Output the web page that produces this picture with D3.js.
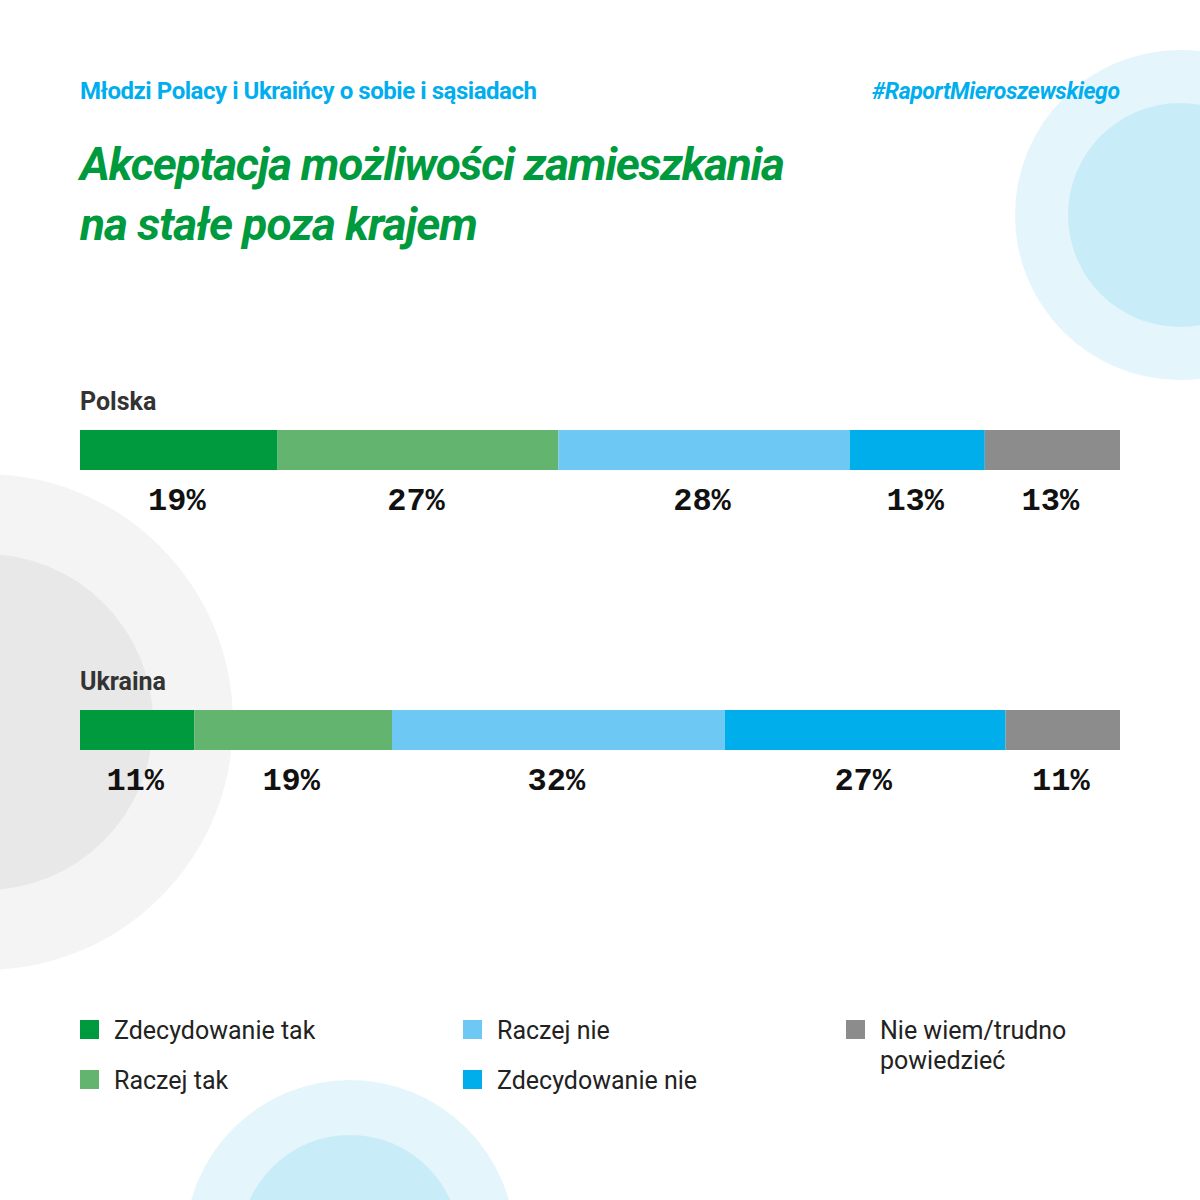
<!DOCTYPE html><html><head><meta charset="utf-8"><script src="https://d3js.org/d3.v7.min.js"></script>
<style>body{margin:0}svg{display:block}</style></head><body><script>
const countries=["Polska","Ukraina"];
const categories=["Zdecydowanie tak","Raczej tak","Raczej nie","Zdecydowanie nie","Nie wiem/trudno powiedzieć"];
const values={"Polska":[19,27,28,13,13],"Ukraina":[11,19,32,27,11]};
const colors=["#009a3e","#63b46e","#6ec8f4","#00aeec","#8c8c8c"];
const svg=d3.select("body").append("svg").attr("width",1200).attr("height",1200);
svg.append("rect").attr("width",1200).attr("height",1200).attr("fill","#fff");
const circ=[[1180,215,165,"#e5f5fc"],[1180,215,112,"#c9ecf9"],[-15,722,248,"#f4f4f4"],[-15,722,168,"#e8e8e8"],[350,1245,165,"#e5f5fc"],[350,1245,110,"#c9ecf9"]];
circ.forEach(c=>svg.append("circle").attr("cx",c[0]).attr("cy",c[1]).attr("r",c[2]).attr("fill",c[3]));
const F="Roboto, sans-serif";
svg.append("text").attr("x",80).attr("y",99).attr("font-family",F).attr("font-weight",700).attr("font-size",24).attr("fill","#00aeef").attr("textLength",457).text("Młodzi Polacy i Ukraińcy o sobie i sąsiadach");
svg.append("text").attr("x",1120).attr("y",99).attr("text-anchor","end").attr("font-family",F).attr("font-style","italic").attr("font-weight",700).attr("font-size",23).attr("fill","#00aeef").attr("textLength",248).text("#RaportMieroszewskiego");
["Akceptacja możliwości zamieszkania","na stałe poza krajem"].forEach((t,i)=>svg.append("text").attr("x",80).attr("y",180+i*60).attr("font-family",F).attr("font-style","italic").attr("font-weight",700).attr("font-size",46).attr("fill","#009a3e").attr("textLength",i?398:705).text(t));
const x=d3.scaleLinear().domain([0,100]).range([80,1120]);
const y=d3.scalePoint().domain(countries).range([430,710]);
countries.forEach(c=>{
  const y0=y(c);
  svg.append("text").attr("x",80).attr("y",y0-20).attr("font-family",F).attr("font-weight",700).attr("font-size",25).attr("fill","#333").text(c);
  let acc=0;
  values[c].forEach((v,i)=>{
    svg.append("rect").attr("x",x(acc)).attr("y",y0).attr("width",x(acc+v)-x(acc)).attr("height",40).attr("fill",colors[i]);
    svg.append("text").attr("x",(x(acc)+x(acc+v))/2-2).attr("y",y0+80).attr("text-anchor","middle").attr("font-family","'Liberation Mono', monospace").attr("font-weight",700).attr("font-size",32).attr("fill","#111").text(v+"%");
    acc+=v;
  });
});
const lp=[[80,1030],[80,1080],[463,1030],[463,1080],[846,1030]];
categories.forEach((c,i)=>{
  const [lx,ly]=lp[i];
  svg.append("rect").attr("x",lx).attr("y",ly-10).attr("width",19).attr("height",19).attr("fill",colors[i]);
  const lines=i===4?["Nie wiem/trudno","powiedzieć"]:[c];
  lines.forEach((t,j)=>svg.append("text").attr("x",lx+34).attr("y",ly+9+j*30).attr("font-family",F).attr("font-size",25).attr("fill","#222").text(t));
});
</script></body></html>
